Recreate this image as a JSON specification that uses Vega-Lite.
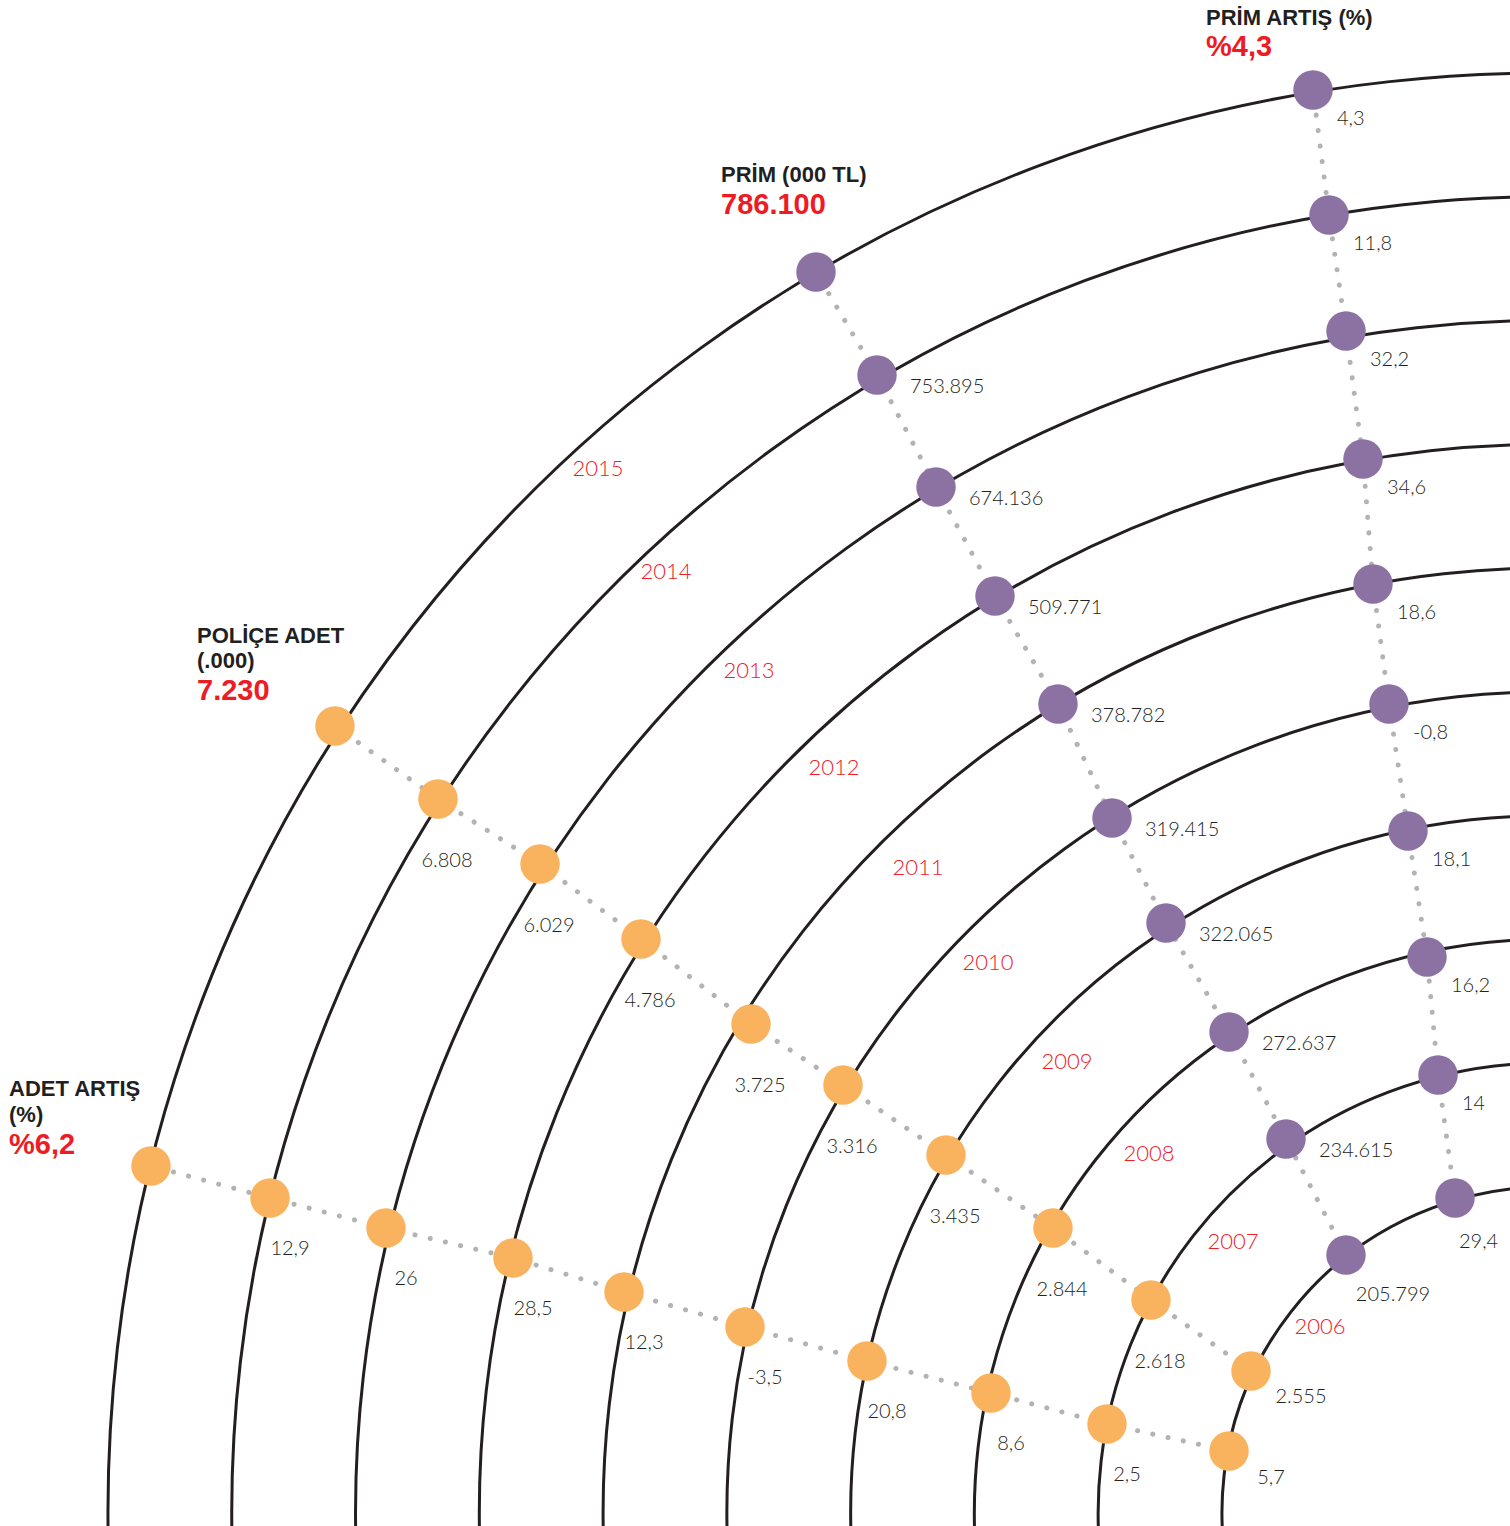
{
  "$schema": "https://vega.github.io/schema/vega-lite/v6.json",
  "width": 1510,
  "height": 1526,
  "padding": 0,
  "autosize": {"type": "fit", "contains": "padding"},
  "background": "#ffffff",
  "config": {"view": {"stroke": null}},
  "datasets": {
    "arcs": [
      {"year": 2006}, {"year": 2007}, {"year": 2008}, {"year": 2009}, {"year": 2010},
      {"year": 2011}, {"year": 2012}, {"year": 2013}, {"year": 2014}, {"year": 2015}
    ],
    "points": [
      {"s": "ADET ARTIŞ", "year": 2015, "x": 151, "y": 1166, "label": ""},
      {"s": "ADET ARTIŞ", "year": 2014, "x": 270, "y": 1198, "label": "12,9"},
      {"s": "ADET ARTIŞ", "year": 2013, "x": 386, "y": 1228, "label": "26"},
      {"s": "ADET ARTIŞ", "year": 2012, "x": 513, "y": 1258, "label": "28,5"},
      {"s": "ADET ARTIŞ", "year": 2011, "x": 624, "y": 1292, "label": "12,3"},
      {"s": "ADET ARTIŞ", "year": 2010, "x": 745, "y": 1327, "label": "-3,5"},
      {"s": "ADET ARTIŞ", "year": 2009, "x": 867, "y": 1361, "label": "20,8"},
      {"s": "ADET ARTIŞ", "year": 2008, "x": 991, "y": 1393, "label": "8,6"},
      {"s": "ADET ARTIŞ", "year": 2007, "x": 1107, "y": 1424, "label": "2,5"},
      {"s": "ADET ARTIŞ", "year": 2006, "x": 1229, "y": 1451, "label": "5,7"},
      {"s": "POLİÇE ADET", "year": 2015, "x": 335, "y": 726, "label": ""},
      {"s": "POLİÇE ADET", "year": 2014, "x": 438, "y": 799, "label": "6.808"},
      {"s": "POLİÇE ADET", "year": 2013, "x": 540, "y": 864, "label": "6.029"},
      {"s": "POLİÇE ADET", "year": 2012, "x": 641, "y": 939, "label": "4.786"},
      {"s": "POLİÇE ADET", "year": 2011, "x": 751, "y": 1024, "label": "3.725"},
      {"s": "POLİÇE ADET", "year": 2010, "x": 843, "y": 1085, "label": "3.316"},
      {"s": "POLİÇE ADET", "year": 2009, "x": 946, "y": 1155, "label": "3.435"},
      {"s": "POLİÇE ADET", "year": 2008, "x": 1053, "y": 1228, "label": "2.844"},
      {"s": "POLİÇE ADET", "year": 2007, "x": 1151, "y": 1300, "label": "2.618"},
      {"s": "POLİÇE ADET", "year": 2006, "x": 1251, "y": 1371, "label": "2.555"},
      {"s": "PRİM", "year": 2015, "x": 816, "y": 272, "label": ""},
      {"s": "PRİM", "year": 2014, "x": 877, "y": 375, "label": "753.895"},
      {"s": "PRİM", "year": 2013, "x": 936, "y": 487, "label": "674.136"},
      {"s": "PRİM", "year": 2012, "x": 995, "y": 596, "label": "509.771"},
      {"s": "PRİM", "year": 2011, "x": 1058, "y": 704, "label": "378.782"},
      {"s": "PRİM", "year": 2010, "x": 1112, "y": 818, "label": "319.415"},
      {"s": "PRİM", "year": 2009, "x": 1166, "y": 923, "label": "322.065"},
      {"s": "PRİM", "year": 2008, "x": 1229, "y": 1032, "label": "272.637"},
      {"s": "PRİM", "year": 2007, "x": 1286, "y": 1139, "label": "234.615"},
      {"s": "PRİM", "year": 2006, "x": 1346, "y": 1255, "label": "205.799"},
      {"s": "PRİM ARTIŞ", "year": 2015, "x": 1313, "y": 90, "label": "4,3"},
      {"s": "PRİM ARTIŞ", "year": 2014, "x": 1329, "y": 215, "label": "11,8"},
      {"s": "PRİM ARTIŞ", "year": 2013, "x": 1346, "y": 331, "label": "32,2"},
      {"s": "PRİM ARTIŞ", "year": 2012, "x": 1363, "y": 459, "label": "34,6"},
      {"s": "PRİM ARTIŞ", "year": 2011, "x": 1373, "y": 584, "label": "18,6"},
      {"s": "PRİM ARTIŞ", "year": 2010, "x": 1389, "y": 704, "label": "-0,8"},
      {"s": "PRİM ARTIŞ", "year": 2009, "x": 1408, "y": 831, "label": "18,1"},
      {"s": "PRİM ARTIŞ", "year": 2008, "x": 1427, "y": 957, "label": "16,2"},
      {"s": "PRİM ARTIŞ", "year": 2007, "x": 1438, "y": 1075, "label": "14"},
      {"s": "PRİM ARTIŞ", "year": 2006, "x": 1455, "y": 1198, "label": "29,4"}
    ],
    "years": [
      {"year": "2015", "x": 598, "y": 469},
      {"year": "2014", "x": 666, "y": 572},
      {"year": "2013", "x": 749, "y": 671},
      {"year": "2012", "x": 834, "y": 768},
      {"year": "2011", "x": 918, "y": 868},
      {"year": "2010", "x": 988, "y": 963},
      {"year": "2009", "x": 1067, "y": 1062},
      {"year": "2008", "x": 1149, "y": 1154},
      {"year": "2007", "x": 1233, "y": 1242},
      {"year": "2006", "x": 1320, "y": 1327}
    ],
    "titles": [
      {"text": "PRİM ARTIŞ (%)", "x": 1206, "y": 18},
      {"text": "PRİM (000 TL)", "x": 721, "y": 175},
      {"text": "POLİÇE ADET", "x": 197, "y": 636},
      {"text": "(.000)", "x": 197, "y": 661},
      {"text": "ADET ARTIŞ", "x": 9, "y": 1089},
      {"text": "(%)", "x": 9, "y": 1115}
    ],
    "totals": [
      {"text": "%4,3", "x": 1206, "y": 47},
      {"text": "786.100", "x": 721, "y": 205},
      {"text": "7.230", "x": 197, "y": 691},
      {"text": "%6,2", "x": 9, "y": 1145}
    ]
  },
  "layer": [
    {
      "data": {"name": "arcs"},
      "mark": {"type": "arc", "filled": false, "stroke": "#231f20", "strokeWidth": 3, "theta": 4.35, "theta2": 6.4, "clip": true},
      "encoding": {
        "x": {"datum": 1547, "type": "quantitative", "scale": {"domain": [0, 1510], "nice": false, "zero": false}, "axis": null},
        "y": {"datum": 1512, "type": "quantitative", "scale": {"domain": [0, 1526], "nice": false, "zero": false, "reverse": true}, "axis": null},
        "radius": {"field": "year", "type": "quantitative", "scale": {"type": "linear", "domain": [2006, 2015], "range": [325, 1439], "zero": false}},
        "radius2": {"field": "year"}
      }
    },
    {
      "data": {"name": "points"},
      "mark": {"type": "line", "stroke": "#b3b3b3", "strokeWidth": 5, "strokeCap": "round", "strokeDash": [0.1, 15.5]},
      "encoding": {
        "x": {"field": "x", "type": "quantitative"},
        "y": {"field": "y", "type": "quantitative"},
        "detail": {"field": "s"},
        "order": {"field": "year", "type": "quantitative"}
      }
    },
    {
      "data": {"name": "points"},
      "mark": {"type": "circle", "size": 1560, "opacity": 1},
      "encoding": {
        "x": {"field": "x", "type": "quantitative"},
        "y": {"field": "y", "type": "quantitative"},
        "color": {"field": "s", "type": "nominal", "legend": null,
          "scale": {"domain": ["ADET ARTIŞ", "POLİÇE ADET", "PRİM", "PRİM ARTIŞ"], "range": ["#f9b25e", "#f9b25e", "#8b72a3", "#8b72a3"]}}
      }
    },
    {
      "data": {"name": "points"},
      "transform": [{"filter": "datum.s === 'ADET ARTIŞ' && datum.year > 2006"}],
      "mark": {"type": "text", "align": "center", "baseline": "middle", "dx": 20, "dy": 51, "font": "Lato", "fontWeight": 300, "fontSize": 20, "fill": "#231f20"},
      "encoding": {"x": {"field": "x", "type": "quantitative"}, "y": {"field": "y", "type": "quantitative"}, "text": {"field": "label"}}
    },
    {
      "data": {"name": "points"},
      "transform": [{"filter": "datum.s === 'ADET ARTIŞ' && datum.year === 2006"}],
      "mark": {"type": "text", "align": "center", "baseline": "middle", "dx": 42, "dy": 27, "font": "Lato", "fontWeight": 300, "fontSize": 20, "fill": "#231f20"},
      "encoding": {"x": {"field": "x", "type": "quantitative"}, "y": {"field": "y", "type": "quantitative"}, "text": {"field": "label"}}
    },
    {
      "data": {"name": "points"},
      "transform": [{"filter": "datum.s === 'POLİÇE ADET' && datum.year > 2006"}],
      "mark": {"type": "text", "align": "center", "baseline": "middle", "dx": 9, "dy": 62, "font": "Lato", "fontWeight": 300, "fontSize": 20, "fill": "#231f20"},
      "encoding": {"x": {"field": "x", "type": "quantitative"}, "y": {"field": "y", "type": "quantitative"}, "text": {"field": "label"}}
    },
    {
      "data": {"name": "points"},
      "transform": [{"filter": "datum.s === 'POLİÇE ADET' && datum.year === 2006"}],
      "mark": {"type": "text", "align": "center", "baseline": "middle", "dx": 50, "dy": 26, "font": "Lato", "fontWeight": 300, "fontSize": 20, "fill": "#231f20"},
      "encoding": {"x": {"field": "x", "type": "quantitative"}, "y": {"field": "y", "type": "quantitative"}, "text": {"field": "label"}}
    },
    {
      "data": {"name": "points"},
      "transform": [{"filter": "datum.s === 'PRİM' && datum.year > 2006"}],
      "mark": {"type": "text", "align": "left", "baseline": "middle", "dx": 33, "dy": 12, "font": "Lato", "fontWeight": 300, "fontSize": 20, "fill": "#231f20"},
      "encoding": {"x": {"field": "x", "type": "quantitative"}, "y": {"field": "y", "type": "quantitative"}, "text": {"field": "label"}}
    },
    {
      "data": {"name": "points"},
      "transform": [{"filter": "datum.s === 'PRİM' && datum.year === 2006"}],
      "mark": {"type": "text", "align": "center", "baseline": "middle", "dx": 47, "dy": 40, "font": "Lato", "fontWeight": 300, "fontSize": 20, "fill": "#231f20"},
      "encoding": {"x": {"field": "x", "type": "quantitative"}, "y": {"field": "y", "type": "quantitative"}, "text": {"field": "label"}}
    },
    {
      "data": {"name": "points"},
      "transform": [{"filter": "datum.s === 'PRİM ARTIŞ' && datum.year > 2006"}],
      "mark": {"type": "text", "align": "left", "baseline": "middle", "dx": 24, "dy": 29, "font": "Lato", "fontWeight": 300, "fontSize": 20, "fill": "#231f20"},
      "encoding": {"x": {"field": "x", "type": "quantitative"}, "y": {"field": "y", "type": "quantitative"}, "text": {"field": "label"}}
    },
    {
      "data": {"name": "points"},
      "transform": [{"filter": "datum.s === 'PRİM ARTIŞ' && datum.year === 2006"}],
      "mark": {"type": "text", "align": "left", "baseline": "middle", "dx": 4, "dy": 44, "font": "Lato", "fontWeight": 300, "fontSize": 20, "fill": "#231f20"},
      "encoding": {"x": {"field": "x", "type": "quantitative"}, "y": {"field": "y", "type": "quantitative"}, "text": {"field": "label"}}
    },
    {
      "data": {"name": "years"},
      "mark": {"type": "text", "align": "center", "baseline": "middle", "font": "Lato", "fontWeight": 300, "fontSize": 22, "fill": "#ed2029"},
      "encoding": {"x": {"field": "x", "type": "quantitative"}, "y": {"field": "y", "type": "quantitative"}, "text": {"field": "year"}}
    },
    {
      "data": {"name": "titles"},
      "mark": {"type": "text", "align": "left", "baseline": "middle", "font": "Liberation Sans", "fontWeight": "bold", "fontSize": 22, "fill": "#231f20"},
      "encoding": {"x": {"field": "x", "type": "quantitative"}, "y": {"field": "y", "type": "quantitative"}, "text": {"field": "text"}}
    },
    {
      "data": {"name": "totals"},
      "mark": {"type": "text", "align": "left", "baseline": "middle", "font": "Liberation Sans", "fontWeight": "bold", "fontSize": 29, "fill": "#ed1c24"},
      "encoding": {"x": {"field": "x", "type": "quantitative"}, "y": {"field": "y", "type": "quantitative"}, "text": {"field": "text"}}
    }
  ]
}
